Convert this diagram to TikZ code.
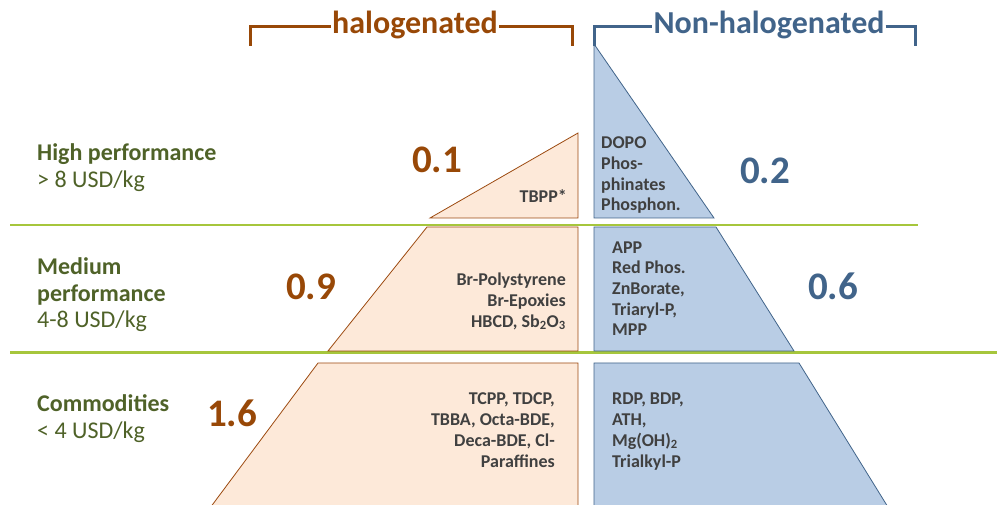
\documentclass[tikz,border=0pt]{standalone}
\usepackage{fontspec}
\setmainfont{Carlito}
\definecolor{hbrown}{HTML}{984807}
\definecolor{nblue}{HTML}{41648A}
\definecolor{peach}{HTML}{FDE9D9}
\definecolor{peachline}{HTML}{9C4A10}
\definecolor{bluefill}{HTML}{B9CDE5}
\definecolor{blueline}{HTML}{41648A}
\definecolor{lgreen}{HTML}{A6C63C}
\definecolor{tgreen}{HTML}{4F6228}
\definecolor{sgray}{HTML}{404040}
\begin{document}
\begin{tikzpicture}[x=1pt,y=-1pt,
  halshape/.style={fill=peach,draw=peachline,line width=0.8pt},
  nonshape/.style={fill=bluefill,draw=blueline,line width=0.8pt},
  sepline/.style={draw=lgreen,line width=2.5pt},
  bracketb/.style={draw=hbrown,line width=3pt},
  bracketn/.style={draw=nblue,line width=3pt},
  headtxt/.style={font=\fontsize{32}{32}\selectfont\bfseries,inner xsep=1pt,inner ysep=0pt,anchor=base},
  bignum/.style={font=\fontsize{39}{39}\selectfont\bfseries,inner sep=0pt,anchor=base},
  stxt/.style={font=\fontsize{18}{20.7}\selectfont\bfseries,text=sgray,inner sep=0pt},
  gtxt/.style={font=\fontsize{24}{27}\selectfont,text=tgreen,inner sep=0pt,align=left,anchor=base west}
]
\useasboundingbox (0,0) rectangle (997,505);
% separator lines
\draw[sepline] (10,225) -- (918,225);
\draw[sepline] (10,352.5) -- (997,352.5);
% shapes
\begin{scope}
\clip (0,0) rectangle (997,505);
\draw[halshape] (430,218) -- (578,218) -- (578,133) -- cycle;
\draw[halshape] (427,227) -- (578,227) -- (578,351) -- (328,351) -- cycle;
\draw[halshape] (318,363) -- (578,363) -- (578,512) -- (207,512) -- cycle;
\draw[nonshape] (594,44) -- (714,218) -- (594,218) -- cycle;
\draw[nonshape] (594,227) -- (716,227) -- (794,351) -- (594,351) -- cycle;
\draw[nonshape] (594,363) -- (799,363) -- (891,512) -- (594,512) -- cycle;
\end{scope}
% headers
\node[headtxt,text=hbrown] (hal) at (415,34) {halogenated};
\node[headtxt,text=nblue] (nonhal) at (769,34) {Non-halogenated};
\coordinate (hl) at (250,46);
\coordinate (hr) at (572,46);
\coordinate (nl) at (594,46);
\coordinate (nr) at (915,46);
\draw[bracketb] (hl) -- (250,27) -- (hal.west |- 0,27);
\draw[bracketb] (hal.east |- 0,27) -- (572,27) -- (hr);
\draw[bracketn] (nl) -- (594,27) -- (nonhal.west |- 0,27);
\draw[bracketn] (nonhal.east |- 0,27) -- (915,27) -- (nr);
% numbers
\node[bignum,text=hbrown] (n01) at (437,173) {0.1};
\node[bignum,text=nblue] (n02) at (765,184) {0.2};
\node[bignum,text=hbrown] (n09) at (311,300) {0.9};
\node[bignum,text=nblue] (n06) at (833,300) {0.6};
\node[bignum,text=hbrown] (n16) at (232,426) {1.6};
% left labels (anchor on last baseline)
\node[gtxt] (g1) at (37,188) {\textbf{High performance}\\> 8 USD/kg};
\node[gtxt] (g2) at (37,328) {\textbf{Medium}\\\textbf{performance}\\4-8 USD/kg};
\node[gtxt] (g3) at (37,438) {\textbf{Commodities}\\< 4 USD/kg};
% shape texts (anchor on last baseline)
\node[stxt,anchor=base east,align=right] (t1) at (567,203) {TBPP*};
\node[stxt,anchor=base west,align=left] (t2) at (601,211) {DOPO\\Phos-\\phinates\\Phosphon.};
\node[stxt,anchor=base east,align=right] (t3) at (566,327) {Br-Polystyrene\\Br-Epoxies\\HBCD, Sb\textsubscript{2}O\textsubscript{3}};
\node[stxt,anchor=base west,align=left] (t4) at (612,336) {APP\\Red Phos.\\ZnBorate,\\Triaryl-P,\\MPP};
\node[stxt,anchor=base east,align=right] (t5) at (555,467) {TCPP, TDCP,\\TBBA, Octa-BDE,\\Deca-BDE, Cl-\\Paraffines};
\node[stxt,anchor=base west,align=left] (t6) at (612,467) {RDP, BDP,\\ATH,\\Mg(OH)\textsubscript{2}\\Trialkyl-P};
\end{tikzpicture}
\end{document}
